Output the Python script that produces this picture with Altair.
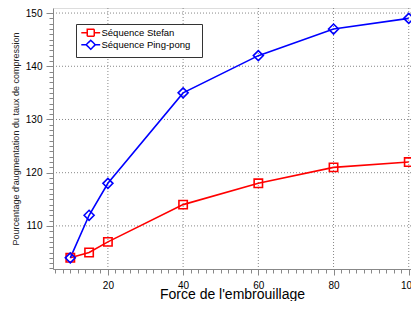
import altair as alt
import pandas as pd

x_vals = [10, 15, 20, 40, 60, 80, 100]
stefan = [104, 105, 107, 114, 118, 121, 122]
pingpong = [104, 112, 118, 135, 142, 147, 149]
series_names = ["Séquence Stefan", "Séquence Ping-pong"]
series_colors = ["#ff0000", "#0000ff"]
series_shapes = ["square", "diamond"]
series_sizes = [70, 100]

x_major = [20, 40, 60, 80, 100]
y_major = [110, 120, 130, 140, 150]
x_ticks = list(range(6, 101, 2))
y_ticks = list(range(102, 151, 1))

rows = []
for name, vals in zip(series_names, [stefan, pingpong]):
    for xv, yv in zip(x_vals, vals):
        rows.append({"x": xv, "y": yv, "serie": name})
df = pd.DataFrame(rows)
df_xg = pd.DataFrame({"x": x_major})
df_yg = pd.DataFrame({"y": y_major})

FONT = "Liberation Sans"

xscale = alt.Scale(domain=[5.4, 100.6], nice=False, zero=False)
yscale = alt.Scale(domain=[101.9, 150.95], nice=False, zero=False)
color_scale = alt.Scale(domain=series_names, range=series_colors)

x_enc = alt.X(
    "x:Q", scale=xscale,
    axis=alt.Axis(
        values=x_ticks, title="Force de l'embrouillage", grid=False,
        labelExpr="datum.value % 20 === 0 ? datum.label : ''",
        tickSize={"condition": {"test": "datum.value % 20 === 0", "value": 6}, "value": 4},
        labelFlush=False, labelOverlap=False, labelPadding=5,
        titleFontSize=14, titleFontWeight="normal", titleColor="#000", titlePadding=-3,
        titleFont=FONT,
    ),
)
y_enc = alt.Y(
    "y:Q", scale=yscale,
    axis=alt.Axis(
        values=y_ticks, title="Pourcentage d'augmentation du taux de compression", grid=False,
        labelExpr="datum.value % 10 === 0 ? datum.label : ''",
        tickSize={"condition": {"test": "datum.value % 10 === 0", "value": 7}, "value": 4},
        labelFlush=False, labelOverlap=False, labelPadding=4,
        titleFontSize=9, titleFontWeight="normal", titleColor="#222", titlePadding=5,
        titleFont=FONT,
    ),
)

sq = "M-2.7,0H-1M1,0H2.7M-1,-1H1V1H-1Z"
di = "M-2.7,0H-1.3M1.3,0H2.7M0,-1.3L1.3,0L0,1.3L-1.3,0Z"

legend = alt.Legend(
    title=None, orient="none", legendX=23, legendY=16,
    fillColor="white", strokeColor="#333", padding=4,
    labelFont=FONT, labelFontSize=9.5, labelColor="#000",
    symbolSize=49, symbolOffset=6, labelOffset=6, rowPadding=-4,
    labelExpr="datum.label + '\u2800'",
    symbolType={"expr": f"datum.value === '{series_names[0]}' ? '{sq}' : '{di}'"},
    symbolFillColor="transparent",
    symbolStrokeColor={"expr": f"datum.value === '{series_names[0]}' ? '{series_colors[0]}' : '{series_colors[1]}'"},
    symbolStrokeWidth=1.5, symbolDash=[1, 0],
)

vgrid = alt.Chart(df_xg).mark_rule(color="#888", strokeDash=[1, 2], strokeWidth=1).encode(x=x_enc)
hgrid = alt.Chart(df_yg).mark_rule(color="#888", strokeDash=[1, 2], strokeWidth=1).encode(y=y_enc)

lines = alt.Chart(df).mark_line(strokeWidth=1.6).encode(
    x=x_enc, y=y_enc,
    color=alt.Color("serie:N", scale=color_scale, legend=legend),
)
point_layers = [
    alt.Chart(df).transform_filter(alt.datum.serie == name).mark_point(
        filled=False, strokeWidth=1.6, opacity=1, shape=shp, color=col, size=sz
    ).encode(x=x_enc, y=y_enc)
    for name, col, shp, sz in zip(series_names, series_colors, series_shapes, series_sizes)
]

chart = alt.layer(vgrid, hgrid, lines, *point_layers).properties(
    width=358, height=261,
    autosize=alt.AutoSizeParams(type="none"),
    padding={"left": 45, "top": 0, "right": 0, "bottom": 32},
).configure_view(stroke=None).configure_axis(
    labelFont=FONT, labelFontSize=9.5, labelColor="#555",
    domainColor="#333", tickColor="#333", domainWidth=1, tickWidth=1,
).configure(background="white")

chart.save("out.html", embed_options={"renderer": "svg", "actions": False})
